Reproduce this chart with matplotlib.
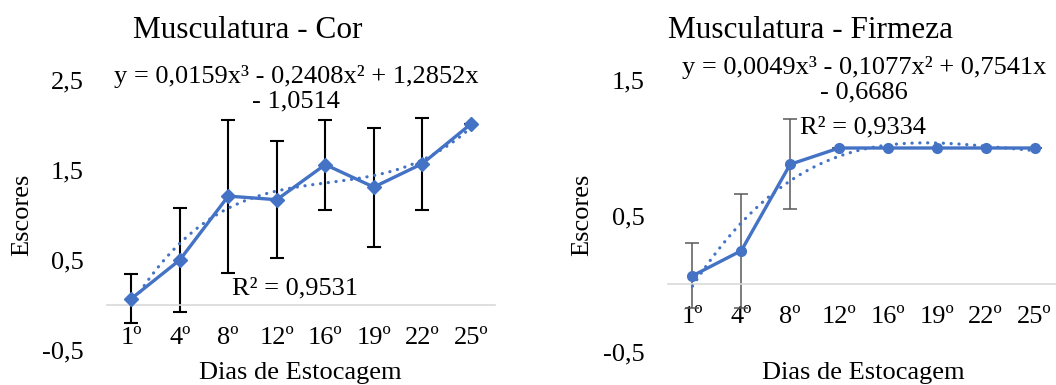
import numpy as np
from matplotlib import pyplot as plt

# categories (storage days)
dias = ['1º', '4º', '8º', '12º', '16º', '19º', '22º', '25º']

# Musculatura - Cor
cor_media = [0.07, 0.50, 1.21, 1.17, 1.56, 1.31, 1.57, 2.01]
cor_desvio = [0.27, 0.58, 0.85, 0.65, 0.50, 0.66, 0.51, 0.0]
cor_eq = 'y = 0,0159x³ - 0,2408x² + 1,2852x\n- 1,0514'
cor_r2 = 'R² = 0,9531'

# Musculatura - Firmeza
firm_media = [0.06, 0.245, 0.88, 1.0, 1.0, 1.0, 1.0, 1.0]
firm_desvio = [0.24, 0.42, 0.33, 0.0, 0.0, 0.0, 0.0, 0.0]
firm_eq = 'y = 0,0049x³ - 0,1077x² + 0,7541x\n- 0,6686'
firm_r2 = 'R² = 0,9334'

W, H = 1056, 385
BLUE = '#4472C4'
FONT = 'Liberation Serif'
FS = 19

plt.rcParams['font.family'] = FONT
plt.rcParams['font.size'] = FS

fig = plt.figure(figsize=(W / 100, H / 100), dpi=100)


def px(x, y):
    return x / W, 1 - y / H


def panel(rect, media, desvio, ylim, yticks, marker, msize, ecolor, elw):
    ax = fig.add_axes(rect)
    x = np.arange(1, len(dias) + 1)
    ax.errorbar(x, media, yerr=desvio, fmt='none', ecolor=ecolor, elinewidth=elw,
                capsize=5, capthick=elw, zorder=2)
    ax.plot(x, media, color=BLUE, linewidth=2.4, marker=marker, markersize=msize, zorder=4)

    # cubic trendline fitted to the means
    coef = np.polyfit(x, media, 3)
    xs = np.linspace(1, len(dias), 200)
    ax.plot(xs, np.polyval(coef, xs), color=BLUE, linewidth=2.3, linestyle=(0, (0.05, 2.4)),
            dash_capstyle='round', zorder=3)

    ax.set_xlim(0.5, len(dias) + 0.5)
    ax.set_ylim(*ylim)
    ax.set_yticks(yticks)
    ax.set_yticklabels([f'{v:.1f}'.replace('.', ',') for v in yticks])
    ax.set_xticks(x)
    ax.set_xticklabels(dias)
    for s in ['top', 'right', 'left']:
        ax.spines[s].set_visible(False)
    ax.spines['bottom'].set_position(('data', 0))
    ax.spines['bottom'].set_color('#D9D9D9')
    ax.spines['bottom'].set_linewidth(1.2)
    ax.tick_params(axis='both', length=0)
    ax.tick_params(axis='y', pad=17)
    ax.tick_params(axis='x', pad=16)
    ax.patch.set_alpha(0)
    return ax


ax1 = panel([107 / W, 35 / H, 388 / W, 270 / H], cor_media, cor_desvio,
            (-0.5, 2.5), [-0.5, 0.5, 1.5, 2.5], 'D', 7.5, 'black', 1.5)
ax2 = panel([668 / W, 33 / H, 391 / W, 272 / H], firm_media, firm_desvio,
            (-0.5, 1.5), [-0.5, 0.5, 1.5], 'o', 7, '#595959', 1.1)

# titles
fig.text(*px(248, 30), 'Musculatura - Cor', ha='center', va='center', fontsize=22.5)
fig.text(*px(810, 30), 'Musculatura - Firmeza', ha='center', va='center', fontsize=22.5)

# axis labels
for xc in (22, 582):
    fig.text(*px(xc, 215), 'Escores', ha='center', va='center', rotation=90)
fig.text(*px(300, 373), 'Dias de Estocagem', ha='center', va='center')
fig.text(*px(863, 373), 'Dias de Estocagem', ha='center', va='center')

# trendline equations
fig.text(*px(296, 89), cor_eq, ha='center', va='center', linespacing=1.15)
fig.text(*px(295, 288), cor_r2, ha='center', va='center')
fig.text(*px(864, 80), firm_eq, ha='center', va='center', linespacing=1.15)
fig.text(*px(863, 127), firm_r2, ha='center', va='center')

fig.savefig('out.png', dpi=100)
